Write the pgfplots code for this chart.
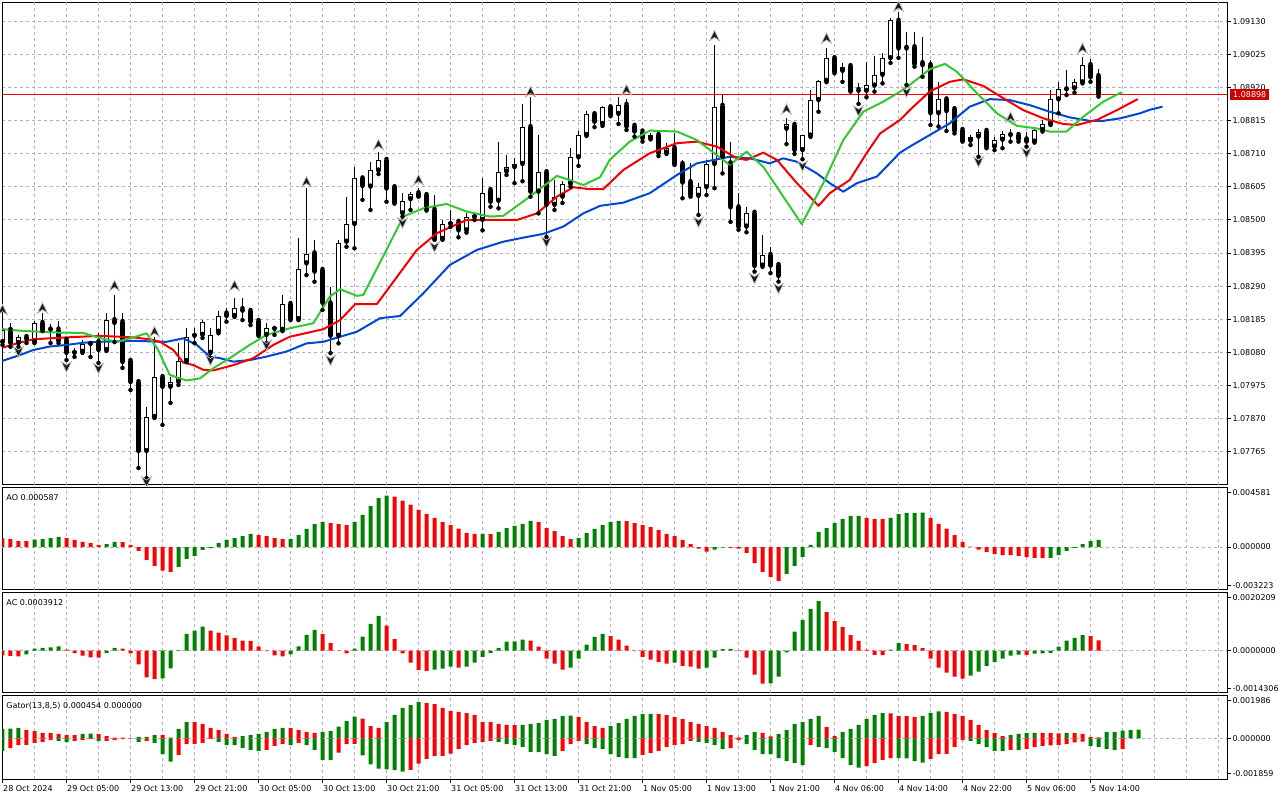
\documentclass[border=0pt]{standalone}
\usepackage{fontspec}
\setmainfont{DejaVu Sans}
\usepackage{pgfplots}
\usepackage{pgfplotstable}
\pgfplotsset{compat=1.18}
\definecolor{mtgreen}{RGB}{0,128,0}
\definecolor{mtred}{RGB}{255,0,0}
\definecolor{jawc}{RGB}{0,72,212}
\definecolor{teethc}{RGB}{245,0,0}
\definecolor{lipsc}{RGB}{50,200,50}
\definecolor{gridc}{RGB}{178,176,188}
\definecolor{pricered}{RGB}{205,0,0}
\newcommand\mtfont{\fontsize{8}{9.6}\selectfont}

\pgfdeclareplotmark{fup}{%
  \pgfpathmoveto{\pgfqpoint{0pt}{5.5pt}}%
  \pgfpathlineto{\pgfqpoint{5pt}{-5pt}}%
  \pgfpathlineto{\pgfqpoint{0pt}{-1.5pt}}%
  \pgfpathlineto{\pgfqpoint{-5pt}{-5pt}}%
  \pgfpathclose
  \pgfusepathqfillstroke}
\pgfdeclareplotmark{fdown}{%
  \pgfpathmoveto{\pgfqpoint{0pt}{-5.5pt}}%
  \pgfpathlineto{\pgfqpoint{5pt}{5pt}}%
  \pgfpathlineto{\pgfqpoint{0pt}{1.5pt}}%
  \pgfpathlineto{\pgfqpoint{-5pt}{5pt}}%
  \pgfpathclose
  \pgfusepathqfillstroke}

\pgfplotstableread{
i o h l c
0 1.08112 1.08160 1.08103 1.08151
1 1.08151 1.08173 1.08097 1.08109
2 1.08109 1.08135 1.08097 1.08128
3 1.08128 1.08135 1.08109 1.08122
4 1.08112 1.08178 1.08109 1.08173
5 1.08173 1.08205 1.08147 1.08151
6 1.08152 1.08170 1.08109 1.08151
7 1.08152 1.08179 1.08109 1.08116
8 1.08119 1.08125 1.08055 1.08078
9 1.08078 1.08093 1.08065 1.08084
10 1.08081 1.08119 1.08078 1.08106
11 1.08106 1.08114 1.08065 1.08112
12 1.08112 1.08141 1.08046 1.08087
13 1.08087 1.08205 1.08084 1.08182
14 1.08182 1.08262 1.08112 1.08173
15 1.08176 1.08205 1.08030 1.08049
16 1.08052 1.08055 1.07960 1.07985
17 1.07985 1.07989 1.07712 1.07766
18 1.07766 1.07906 1.07680 1.07874
19 1.07874 1.08128 1.07871 1.08001
20 1.08001 1.08008 1.07849 1.07970
21 1.07970 1.08001 1.07919 1.07985
22 1.07985 1.08109 1.07976 1.08052
23 1.08052 1.08157 1.08049 1.08128
24 1.08132 1.08157 1.08109 1.08138
25 1.08135 1.08182 1.08125 1.08176
26 1.08078 1.08157 1.08062 1.08135
27 1.08145 1.08212 1.08140 1.08195
28 1.08203 1.08220 1.08177 1.08195
29 1.08195 1.08252 1.08192 1.08220
30 1.08217 1.08252 1.08182 1.08212
31 1.08211 1.08217 1.08166 1.08177
32 1.08179 1.08185 1.08132 1.08135
33 1.08135 1.08174 1.08109 1.08158
34 1.08154 1.08163 1.08135 1.08161
35 1.08151 1.08262 1.08147 1.08233
36 1.08233 1.08236 1.08182 1.08185
37 1.08185 1.08442 1.08182 1.08343
38 1.08362 1.08602 1.08325 1.08392
39 1.08394 1.08436 1.08304 1.08336
40 1.08341 1.08352 1.08214 1.08237
41 1.08235 1.08288 1.08077 1.08132
42 1.08132 1.08436 1.08108 1.08428
43 1.08431 1.08574 1.08415 1.08487
44 1.08487 1.08668 1.08410 1.08632
45 1.08632 1.08638 1.08564 1.08608
46 1.08606 1.08685 1.08532 1.08659
47 1.08657 1.08716 1.08646 1.08691
48 1.08691 1.08697 1.08558 1.08600
49 1.08604 1.08614 1.08552 1.08555
50 1.08521 1.08585 1.08511 1.08561
51 1.08566 1.08590 1.08532 1.08582
52 1.08585 1.08601 1.08574 1.08577
53 1.08579 1.08585 1.08530 1.08534
54 1.08532 1.08579 1.08437 1.08440
55 1.08440 1.08500 1.08437 1.08487
56 1.08487 1.08532 1.08478 1.08494
57 1.08494 1.08500 1.08445 1.08467
58 1.08467 1.08521 1.08460 1.08509
59 1.08509 1.08521 1.08500 1.08516
60 1.08500 1.08632 1.08467 1.08585
61 1.08595 1.08606 1.08542 1.08558
62 1.08561 1.08749 1.08537 1.08652
63 1.08654 1.08707 1.08643 1.08668
64 1.08668 1.08696 1.08617 1.08678
65 1.08678 1.08869 1.08623 1.08795
66 1.08795 1.08891 1.08574 1.08590
67 1.08590 1.08770 1.08521 1.08652
68 1.08652 1.08656 1.08446 1.08548
69 1.08548 1.08627 1.08532 1.08574
70 1.08574 1.08623 1.08554 1.08614
71 1.08614 1.08728 1.08606 1.08699
72 1.08699 1.08783 1.08672 1.08770
73 1.08770 1.08846 1.08767 1.08836
74 1.08836 1.08843 1.08795 1.08812
75 1.08805 1.08863 1.08799 1.08858
76 1.08858 1.08863 1.08830 1.08834
77 1.08837 1.08890 1.08805 1.08865
78 1.08866 1.08883 1.08786 1.08797
79 1.08799 1.08808 1.08765 1.08781
80 1.08781 1.08786 1.08749 1.08760
81 1.08760 1.08777 1.08756 1.08770
82 1.08770 1.08775 1.08703 1.08712
83 1.08714 1.08744 1.08710 1.08728
84 1.08728 1.08775 1.08675 1.08678
85 1.08678 1.08691 1.08569 1.08619
86 1.08620 1.08680 1.08574 1.08579
87 1.08577 1.08617 1.08516 1.08604
88 1.08604 1.08691 1.08579 1.08678
89 1.08678 1.09056 1.08601 1.08858
90 1.08863 1.08897 1.08648 1.08701
91 1.08680 1.08749 1.08494 1.08540
92 1.08540 1.08585 1.08469 1.08479
93 1.08479 1.08540 1.08461 1.08521
94 1.08523 1.08529 1.08336 1.08354
95 1.08355 1.08452 1.08351 1.08389
96 1.08389 1.08413 1.08331 1.08355
97 1.08357 1.08366 1.08304 1.08322
98 1.08790 1.08823 1.08741 1.08804
99 1.08802 1.08805 1.08710 1.08722
100 1.08722 1.08770 1.08693 1.08770
101 1.08768 1.08913 1.08764 1.08881
102 1.08881 1.08945 1.08844 1.08942
103 1.08942 1.09045 1.08938 1.09014
104 1.09014 1.09018 1.08966 1.08971
105 1.08974 1.08998 1.08939 1.08987
106 1.08989 1.08993 1.08908 1.08911
107 1.08913 1.08934 1.08869 1.08911
108 1.08910 1.09003 1.08890 1.08929
109 1.08927 1.09021 1.08908 1.08961
110 1.08961 1.09030 1.08934 1.09014
111 1.09014 1.09142 1.08999 1.09135
112 1.09133 1.09161 1.09015 1.09045
113 1.09047 1.09098 1.08929 1.09045
114 1.09049 1.09098 1.08987 1.08995
115 1.08998 1.09082 1.08955 1.08992
116 1.08992 1.09008 1.08802 1.08839
117 1.08839 1.08939 1.08797 1.08883
118 1.08883 1.08890 1.08783 1.08846
119 1.08852 1.08855 1.08775 1.08783
120 1.08786 1.08789 1.08749 1.08752
121 1.08752 1.08770 1.08738 1.08765
122 1.08765 1.08788 1.08701 1.08781
123 1.08783 1.08786 1.08728 1.08733
124 1.08733 1.08765 1.08722 1.08755
125 1.08755 1.08783 1.08728 1.08774
126 1.08770 1.08790 1.08749 1.08772
127 1.08770 1.08781 1.08749 1.08756
128 1.08756 1.08781 1.08733 1.08749
129 1.08749 1.08789 1.08746 1.08786
130 1.08786 1.08818 1.08781 1.08804
131 1.08804 1.08913 1.08802 1.08883
132 1.08883 1.08939 1.08839 1.08915
133 1.08915 1.08977 1.08897 1.08917
134 1.08918 1.08947 1.08904 1.08939
135 1.08937 1.09019 1.08934 1.08992
136 1.08992 1.09011 1.08939 1.08953
137 1.08957 1.08979 1.08892 1.08898
}\candles

\pgfplotstableread{
i p
-0.3 1.08050
2.2 1.08071
3.85 1.08087
5.9 1.08098
8.0 1.08103
10.1 1.08110
12.2 1.08113
16.3 1.08116
20.5 1.08113
22.6 1.08124
24.3 1.08103
25.9 1.08066
27.2 1.08061
28.85 1.08050
30.9 1.08055
33.0 1.08066
35.5 1.08082
38.0 1.08108
40.1 1.08113
44.3 1.08145
47.2 1.08188
49.7 1.08195
52.6 1.08267
55.9 1.08357
59.3 1.08405
62.6 1.08431
65.1 1.08444
67.6 1.08456
70.1 1.08479
72.6 1.08521
74.7 1.08545
77.6 1.08555
80.9 1.08585
84.3 1.08643
86.8 1.08680
90.9 1.08701
93.4 1.08696
95.9 1.08680
97.6 1.08696
99.3 1.08685
101.8 1.08648
103.4 1.08617
105.1 1.08590
106.8 1.08617
109.3 1.08638
112.2 1.08714
113.4 1.08733
115.9 1.08770
118.4 1.08807
120.9 1.08860
123.4 1.08884
125.9 1.08881
128.4 1.08865
130.9 1.08844
133.4 1.08826
135.9 1.08815
137.6 1.08815
139.7 1.08823
142.2 1.08839
143.4 1.08850
145.0 1.08860
}\jaw

\pgfplotstableread{
i p
-0.3 1.08092
1.8 1.08108
3.85 1.08121
8.0 1.08127
12.2 1.08132
16.3 1.08127
18.4 1.08121
19.7 1.08113
21.35 1.08087
22.6 1.08047
23.85 1.08039
25.1 1.08024
26.35 1.08022
28.85 1.08039
31.35 1.08061
33.85 1.08103
35.9 1.08129
40.1 1.08153
42.2 1.08182
44.1 1.08233
46.8 1.08233
48.4 1.08288
51.8 1.08405
54.3 1.08458
58.0 1.08500
64.3 1.08500
66.8 1.08521
69.3 1.08574
71.35 1.08604
73.4 1.08598
75.1 1.08598
77.6 1.08659
80.9 1.08712
84.3 1.08744
86.8 1.08749
89.3 1.08733
91.8 1.08696
93.0 1.08691
95.1 1.08714
96.8 1.08691
99.3 1.08617
102.0 1.08545
103.4 1.08585
105.9 1.08627
108.0 1.08712
109.7 1.08775
112.2 1.08818
113.4 1.08849
115.9 1.08908
118.4 1.08939
120.1 1.08947
122.6 1.08926
125.1 1.08887
127.6 1.08849
130.1 1.08823
132.6 1.08805
134.3 1.08802
136.8 1.08818
139.3 1.08849
141.9 1.08884
}\teeth

\pgfplotstableread{
i p
-0.3 1.08154
1.8 1.08149
5.9 1.08143
10.1 1.08141
12.2 1.08125
14.3 1.08113
16.35 1.08127
18.0 1.08140
19.4 1.08090
20.9 1.08008
23.0 1.07990
24.7 1.07997
26.35 1.08029
28.4 1.08061
30.9 1.08103
33.0 1.08135
35.9 1.08156
38.85 1.08172
40.9 1.08256
42.2 1.08280
44.3 1.08259
45.1 1.08262
48.0 1.08405
50.1 1.08511
52.6 1.08537
55.5 1.08551
58.0 1.08527
60.9 1.08511
62.6 1.08513
65.9 1.08574
69.3 1.08640
70.9 1.08627
72.6 1.08611
74.7 1.08636
75.9 1.08691
78.4 1.08749
80.9 1.08784
84.3 1.08781
86.8 1.08754
89.3 1.08706
90.9 1.08675
93.0 1.08717
95.1 1.08669
97.6 1.08574
99.9 1.08487
102.6 1.08617
105.1 1.08754
107.6 1.08844
110.1 1.08876
112.2 1.08908
113.4 1.08929
115.9 1.08979
117.8 1.08996
119.3 1.08971
121.8 1.08903
124.3 1.08839
126.8 1.08799
129.3 1.08791
130.9 1.08781
133.0 1.08781
135.1 1.08828
137.6 1.08876
139.9 1.08906
}\lips

\pgfplotstableread{
i p
0 1.08214
5 1.08220
14 1.08291
19 1.08145
29 1.08291
38 1.08621
47 1.08739
52 1.08627
66 1.08907
78 1.08913
89 1.09085
98 1.08852
103 1.09077
112 1.09178
126 1.08826
135 1.09045
}\fup

\pgfplotstableread{
i p
2 1.08082
8 1.08034
12 1.08029
18 1.07669
26 1.08055
33 1.08103
41 1.08055
50 1.08491
54 1.08415
68 1.08431
87 1.08494
94 1.08315
97 1.08283
100 1.08672
107 1.08847
113 1.08907
122 1.08685
128 1.08714
}\fdn

\pgfplotstableread{
i v g
0 0.00073 0
1 0.00067 0
2 0.00050 0
3 0.00049 0
4 0.00061 1
5 0.00067 1
6 0.00075 1
7 0.00084 1
8 0.00075 0
9 0.00059 0
10 0.00042 0
11 0.00033 0
12 0.00017 0
13 0.00025 1
14 0.00042 1
15 0.00041 0
16 0.00017 0
17 -0.00033 0
18 -0.00109 0
19 -0.00159 0
20 -0.00198 0
21 -0.00209 0
22 -0.00167 1
23 -0.00100 1
24 -0.00075 1
25 -0.00025 1
26 -0.00010 1
27 0.00033 1
28 0.00059 1
29 0.00075 1
30 0.00092 1
31 0.00109 1
32 0.00100 0
33 0.00092 0
34 0.00075 0
35 0.00067 0
36 0.00069 1
37 0.00100 1
38 0.00151 1
39 0.00192 1
40 0.00209 1
41 0.00201 0
42 0.00192 0
43 0.00184 0
44 0.00209 1
45 0.00270 1
46 0.00343 1
47 0.00410 1
48 0.00430 1
49 0.00421 0
50 0.00388 0
51 0.00354 0
52 0.00310 0
53 0.00276 0
54 0.00243 0
55 0.00209 0
56 0.00184 0
57 0.00153 0
58 0.00117 0
59 0.00109 0
60 0.00110 1
61 0.00108 0
62 0.00126 1
63 0.00159 1
64 0.00178 1
65 0.00193 1
66 0.00218 1
67 0.00209 0
68 0.00159 0
69 0.00134 0
70 0.00092 0
71 0.00067 0
72 0.00075 1
73 0.00117 1
74 0.00151 1
75 0.00184 1
76 0.00209 1
77 0.00218 1
78 0.00217 0
79 0.00200 0
80 0.00184 0
81 0.00167 0
82 0.00142 0
83 0.00109 0
84 0.00092 0
85 0.00059 0
86 0.00025 0
87 -0.00014 0
88 -0.00039 0
89 -0.00022 1
90 -0.00006 1
91 -0.00008 0
92 -0.00014 0
93 -0.00050 0
94 -0.00134 0
95 -0.00209 0
96 -0.00251 0
97 -0.00285 0
98 -0.00226 1
99 -0.00159 1
100 -0.00083 1
101 0.00017 1
102 0.00126 1
103 0.00159 1
104 0.00200 1
105 0.00234 1
106 0.00260 1
107 0.00261 1
108 0.00243 0
109 0.00234 0
110 0.00233 0
111 0.00243 1
112 0.00276 1
113 0.00285 1
114 0.00286 1
115 0.00287 1
116 0.00243 0
117 0.00193 0
118 0.00153 0
119 0.00100 0
120 0.00042 0
121 0.00003 0
122 -0.00022 0
123 -0.00042 0
124 -0.00059 0
125 -0.00067 0
126 -0.00068 0
127 -0.00075 0
128 -0.00084 0
129 -0.00092 0
130 -0.00093 0
131 -0.00091 1
132 -0.00067 1
133 -0.00033 1
134 -0.00008 1
135 0.00025 1
136 0.00050 1
137 0.00059 1
}\ao

\pgfplotstableread{
i v g
0 -0.00018 0
1 -0.00020 0
2 -0.00021 0
3 -0.00014 1
4 0.00008 1
5 0.00011 1
6 0.00013 1
7 0.00016 1
8 0.00004 0
9 -0.00009 0
10 -0.00019 0
11 -0.00025 0
12 -0.00026 0
13 -0.00009 1
14 0.00011 1
15 0.00008 0
16 -0.00010 0
17 -0.00052 0
18 -0.00101 0
19 -0.00108 0
20 -0.00105 1
21 -0.00067 1
22 0.00002 1
23 0.00064 1
24 0.00076 1
25 0.00091 1
26 0.00076 0
27 0.00068 0
28 0.00058 0
29 0.00049 0
30 0.00038 0
31 0.00037 0
32 0.00016 0
33 -0.00002 0
34 -0.00018 0
35 -0.00021 0
36 -0.00014 1
37 0.00016 1
38 0.00060 1
39 0.00079 1
40 0.00064 0
41 0.00030 0
42 -0.00001 0
43 -0.00010 0
44 0.00008 1
45 0.00053 1
46 0.00102 1
47 0.00132 1
48 0.00095 0
49 0.00044 0
50 -0.00010 0
51 -0.00045 0
52 -0.00073 0
53 -0.00076 0
54 -0.00072 1
55 -0.00068 1
56 -0.00060 1
57 -0.00064 0
58 -0.00060 1
59 -0.00045 1
60 -0.00023 1
61 -0.00008 1
62 0.00011 1
63 0.00034 1
64 0.00035 1
65 0.00042 1
66 0.00038 0
67 0.00015 0
68 -0.00030 0
69 -0.00049 0
70 -0.00072 0
71 -0.00064 1
72 -0.00030 1
73 0.00023 1
74 0.00052 1
75 0.00064 1
76 0.00055 0
77 0.00042 0
78 0.00019 0
79 -0.00002 0
80 -0.00023 0
81 -0.00034 0
82 -0.00042 0
83 -0.00049 0
84 -0.00045 1
85 -0.00057 0
86 -0.00060 0
87 -0.00068 0
88 -0.00064 1
89 -0.00026 1
90 0.00006 1
91 0.00007 1
92 -0.00002 0
93 -0.00026 0
94 -0.00091 0
95 -0.00125 0
96 -0.00124 1
97 -0.00098 1
98 -0.00006 1
99 0.00072 1
100 0.00116 1
101 0.00158 1
102 0.00188 1
103 0.00146 0
104 0.00112 0
105 0.00090 0
106 0.00059 0
107 0.00037 0
108 0.00004 0
109 -0.00016 0
110 -0.00017 0
111 0.00004 1
112 0.00029 1
113 0.00025 0
114 0.00021 0
115 0.00010 0
116 -0.00030 0
117 -0.00064 0
118 -0.00083 0
119 -0.00098 0
120 -0.00106 0
121 -0.00094 1
122 -0.00079 1
123 -0.00057 1
124 -0.00042 1
125 -0.00030 1
126 -0.00019 1
127 -0.00015 1
128 -0.00016 0
129 -0.00011 1
130 -0.00010 1
131 -0.00008 1
132 0.00015 1
133 0.00038 1
134 0.00049 1
135 0.00059 1
136 0.00055 0
137 0.00039 0
}\ac

\pgfplotstableread{
i v g
0 0.00049 1
1 0.00050 1
2 0.00054 1
3 0.00043 0
4 0.00038 0
5 0.00028 0
6 0.00027 0
7 0.00023 0
8 0.00017 0
9 0.00016 0
10 0.00023 1
11 0.00024 1
12 0.00022 0
13 0.00012 0
14 0.00004 0
15 0.00003 0
16 0.00002 0
17 0.00007 1
18 0.00008 1
19 0.00017 1
20 0.00016 0
21 0.00004 0
22 0.00049 1
23 0.00085 1
24 0.00084 0
25 0.00075 0
26 0.00054 0
27 0.00043 0
28 0.00023 0
29 0.00007 0
30 0.00012 1
31 0.00017 1
32 0.00023 1
33 0.00033 1
34 0.00049 1
35 0.00054 1
36 0.00053 0
37 0.00043 0
38 0.00033 0
39 0.00028 0
40 0.00033 1
41 0.00038 1
42 0.00061 1
43 0.00090 1
44 0.00113 1
45 0.00103 0
46 0.00064 0
47 0.00054 0
48 0.00085 1
49 0.00122 1
50 0.00159 1
51 0.00174 1
52 0.00190 1
53 0.00185 0
54 0.00179 0
55 0.00159 0
56 0.00143 0
57 0.00138 0
58 0.00132 0
59 0.00122 0
60 0.00085 0
61 0.00084 0
62 0.00075 0
63 0.00070 0
64 0.00069 0
65 0.00070 1
66 0.00075 1
67 0.00080 1
68 0.00096 1
69 0.00101 1
70 0.00117 1
71 0.00118 1
72 0.00111 0
73 0.00085 0
74 0.00064 0
75 0.00054 0
76 0.00064 1
77 0.00080 1
78 0.00101 1
79 0.00117 1
80 0.00127 1
81 0.00128 1
82 0.00127 0
83 0.00122 0
84 0.00111 0
85 0.00101 0
86 0.00085 0
87 0.00075 0
88 0.00064 0
89 0.00054 0
90 0.00033 0
91 0.00017 0
92 0.00005 0
93 0.00017 1
94 0.00033 1
95 0.00028 0
96 0.00010 0
97 0.00022 1
98 0.00043 1
99 0.00075 1
100 0.00085 1
101 0.00101 1
102 0.00117 1
103 0.00059 0
104 0.00012 0
105 0.00033 1
106 0.00049 1
107 0.00070 1
108 0.00101 1
109 0.00122 1
110 0.00131 1
111 0.00130 0
112 0.00117 0
113 0.00116 0
114 0.00111 0
115 0.00117 1
116 0.00132 1
117 0.00141 1
118 0.00138 0
119 0.00127 0
120 0.00117 0
121 0.00096 0
122 0.00070 0
123 0.00043 0
124 0.00028 0
125 0.00012 0
126 0.00017 1
127 0.00023 1
128 0.00028 1
129 0.00029 1
130 0.00028 0
131 0.00027 0
132 0.00026 0
133 0.00028 1
134 0.00027 0
135 0.00023 0
136 0.00007 0
137 0.00005 0
138 0.00033 1
139 0.00034 1
140 0.00040 1
141 0.00043 1
142 0.00045 1
}\gup

\pgfplotstableread{
i v g
0 -0.00066 1
1 -0.00051 0
2 -0.00035 0
3 -0.00034 0
4 -0.00024 0
5 -0.00019 0
6 -0.00009 0
7 -0.00014 1
8 -0.00019 1
9 -0.00014 0
10 -0.00009 0
11 -0.00004 0
12 -0.00014 1
13 -0.00013 0
14 -0.00009 0
15 -0.00004 0
16 -0.00002 0
17 -0.00019 1
18 -0.00014 0
19 -0.00024 1
20 -0.00082 1
21 -0.00122 1
22 -0.00087 0
23 -0.00030 0
24 -0.00029 0
25 -0.00024 0
26 -0.00004 0
27 -0.00019 1
28 -0.00035 1
29 -0.00036 1
30 -0.00051 1
31 -0.00061 1
32 -0.00066 1
33 -0.00061 0
34 -0.00040 0
35 -0.00030 0
36 -0.00035 1
37 -0.00024 0
38 -0.00035 1
39 -0.00061 1
40 -0.00113 1
41 -0.00114 1
42 -0.00075 0
43 -0.00030 0
44 -0.00029 0
45 -0.00089 1
46 -0.00136 1
47 -0.00159 1
48 -0.00162 1
49 -0.00166 1
50 -0.00174 1
51 -0.00165 0
52 -0.00132 0
53 -0.00108 0
54 -0.00093 0
55 -0.00092 0
56 -0.00080 0
57 -0.00056 0
58 -0.00035 0
59 -0.00024 0
60 -0.00019 0
61 -0.00014 0
62 -0.00019 1
63 -0.00030 1
64 -0.00035 1
65 -0.00045 1
66 -0.00071 1
67 -0.00072 1
68 -0.00082 1
69 -0.00092 1
70 -0.00066 0
71 -0.00030 0
72 -0.00014 0
73 -0.00030 1
74 -0.00051 1
75 -0.00056 1
76 -0.00082 1
77 -0.00098 1
78 -0.00103 1
79 -0.00104 1
80 -0.00087 0
81 -0.00077 0
82 -0.00066 0
83 -0.00045 0
84 -0.00035 0
85 -0.00030 0
86 -0.00014 0
87 -0.00019 1
88 -0.00024 1
89 -0.00035 1
90 -0.00056 1
91 -0.00051 0
92 -0.00009 0
93 -0.00030 1
94 -0.00061 1
95 -0.00082 1
96 -0.00083 1
97 -0.00103 1
98 -0.00119 1
99 -0.00129 1
100 -0.00140 1
101 -0.00035 0
102 -0.00045 1
103 -0.00051 1
104 -0.00071 1
105 -0.00103 1
106 -0.00140 1
107 -0.00153 1
108 -0.00145 0
109 -0.00129 0
110 -0.00113 0
111 -0.00103 0
112 -0.00104 1
113 -0.00105 1
114 -0.00119 1
115 -0.00127 1
116 -0.00108 0
117 -0.00082 0
118 -0.00081 0
119 -0.00045 0
120 -0.00009 0
121 -0.00014 1
122 -0.00030 1
123 -0.00045 1
124 -0.00066 1
125 -0.00067 1
126 -0.00061 0
127 -0.00062 1
128 -0.00055 0
129 -0.00045 0
130 -0.00040 0
131 -0.00037 0
132 -0.00035 0
133 -0.00031 0
134 -0.00021 0
135 -0.00017 0
136 -0.00040 1
137 -0.00045 1
138 -0.00056 1
139 -0.00061 1
140 -0.00056 0
}\gdn

\pgfplotsset{
  mtpanel/.style={
    scale only axis, width=1225pt,
    xmin=-0.025, xmax=153.1,
    axis line style={black, line width=1pt},
    tick style={black, line width=1pt},
    tick align=outside, major tick length=4pt,
    ytick pos=right, yticklabel pos=right,
    yticklabel style={font=\mtfont, anchor=west, inner sep=0pt, xshift=1pt},
    grid style={gridc, line width=1pt, dash pattern=on 3pt off 3pt},
    major grid style={gridc, line width=1pt, dash pattern=on 3pt off 3pt},
    minor grid style={gridc, line width=1pt, dash pattern=on 3pt off 3pt},
    scaled y ticks=false,
  },
  vgrid/.style={xtick=\empty, extra x ticks={4,8,...,152}, extra x tick labels={},
    extra x tick style={grid=major, major tick length=0pt}},
  zeroline/.style={extra y ticks={0}, extra y tick labels={},
    extra y tick style={grid=major, major tick length=0pt}},
  gbar/.style={ybar, bar width=4pt, bar shift=0pt, draw=none, fill=mtgreen,
    restrict expr to domain={\thisrow{g}}{0.5:1.5}},
  rbar/.style={ybar, bar width=4pt, bar shift=0pt, draw=none, fill=mtred,
    restrict expr to domain={\thisrow{g}}{-0.5:0.5}},
}

\begin{document}
\begin{tikzpicture}
\path[use as bounding box] (0pt,0pt) rectangle (1280pt,-800pt);

% ---------------- main price panel
\begin{axis}[mtpanel, vgrid, at={(2.3pt,-2.5pt)}, anchor=north west, height=482.2pt,
  ymin=1.07659, ymax=1.09191,
  ytick={1.07765,1.07870,1.07975,1.08080,1.08185,1.08290,1.08395,1.08500,1.08605,1.08710,1.08815,1.08920,1.09025,1.09130},
  yticklabels={1.07765,1.07870,1.07975,1.08080,1.08185,1.08290,1.08395,1.08500,1.08605,1.08710,1.08815,1.08920,1.09025,1.09130},
  ymajorgrids,
]
\addplot[mtred, line width=1pt] coordinates {(-1,1.08898) (160,1.08898)};
\addplot[only marks, mark=none, error bars/.cd, y dir=plus, y explicit, error mark=none,
  error bar style={black, line width=1pt, solid}]
  table[x=i, y=l, y error plus expr={\thisrow{h}-\thisrow{l}}] {\candles};
\addplot[only marks, mark=none, error bars/.cd, y dir=plus, y explicit, error mark=none,
  error bar style={black, line width=5pt, solid}]
  table[x=i, y expr={min(\thisrow{o},\thisrow{c})}, y error plus expr={max(abs(\thisrow{c}-\thisrow{o}),0.0000318)}] {\candles};
\addplot[only marks, mark=none, error bars/.cd, y dir=plus, y explicit, error mark=none,
  error bar style={white, line width=3pt, solid}]
  table[x=i, y expr={\thisrow{o}+0.0000318}, y error plus expr={max(\thisrow{c}-\thisrow{o}-0.0000636,0)}] {\candles};
\addplot[jawc, line width=2pt, line join=round] table[x=i, y=p] {\jaw};
\addplot[teethc, line width=2pt, line join=round] table[x=i, y=p] {\teeth};
\addplot[lipsc, line width=2pt, line join=round] table[x=i, y=p] {\lips};
\addplot[only marks, mark=fup, mark options={fill=black!90, draw=gray!55, line width=0.7pt}] table[x=i, y=p] {\fup};
\addplot[only marks, mark=fdown, mark options={fill=black!90, draw=gray!55, line width=0.7pt}] table[x=i, y=p] {\fdn};
\coordinate (cp) at (axis cs:153.1,1.08898);
\end{axis}
\node[fill=pricered, text=white, font=\mtfont, inner xsep=3pt, inner ysep=2.5pt,
  text height=6pt, text depth=0pt, anchor=west] at ([xshift=2.7pt]cp) {1.08898};

% ---------------- AO
\begin{axis}[mtpanel, vgrid, zeroline, at={(2.3pt,-487.5pt)}, anchor=north west, height=102pt,
  ymin=-0.003559, ymax=0.004983,
  ytick={-0.003223,0,0.004581}, yticklabels={-0.003223,0.000000,0.004581}]
\addplot[gbar] table[x=i, y=v] {\ao};
\addplot[rbar] table[x=i, y=v] {\ao};
\node[anchor=base west, font=\mtfont, inner sep=0pt, xshift=4pt, yshift=-12.5pt] at (rel axis cs:0,1) {AO 0.000587};
\end{axis}

% ---------------- AC
\begin{axis}[mtpanel, vgrid, zeroline, at={(2.3pt,-592pt)}, anchor=north west, height=100.7pt,
  ymin=-0.0015895, ymax=0.0022214,
  ytick={-0.0014306,0,0.0020209}, yticklabels={-0.0014306,0.0000000,0.0020209}]
\addplot[gbar] table[x=i, y=v] {\ac};
\addplot[rbar] table[x=i, y=v] {\ac};
\node[anchor=base west, font=\mtfont, inner sep=0pt, xshift=4pt, yshift=-13pt] at (rel axis cs:0,1) {AC 0.0003912};
\end{axis}

% ---------------- Gator
\begin{axis}[mtpanel, zeroline, at={(2.3pt,-695pt)}, anchor=north west, height=84pt,
  ymin=-0.002127, ymax=0.002263, clip mode=individual,
  minor xtick={4,8,...,152}, xminorgrids, minor tick length=0pt,
  xtick={0,8,...,136}, xticklabels={}, xtick pos=bottom,
  ytick={-0.001859,0,0.001986}, yticklabels={-0.001859,0.000000,0.001986}]
\addplot[gbar] table[x=i, y=v] {\gup};
\addplot[rbar] table[x=i, y=v] {\gup};
\addplot[gbar] table[x=i, y=v] {\gdn};
\addplot[rbar] table[x=i, y=v] {\gdn};
\node[anchor=base west, font=\mtfont, inner sep=0pt, xshift=4pt, yshift=-13.3pt] at (rel axis cs:0,1) {Gator(13,8,5) 0.000454 0.000000};
\begin{scope}[every node/.style={anchor=base west, font=\mtfont, inner sep=0pt, xshift=0.5pt, yshift=-12.7pt}]
\node at (axis cs:0,-0.002127) {28 Oct 2024};
\node at (axis cs:8,-0.002127) {29 Oct 05:00};
\node at (axis cs:16,-0.002127) {29 Oct 13:00};
\node at (axis cs:24,-0.002127) {29 Oct 21:00};
\node at (axis cs:32,-0.002127) {30 Oct 05:00};
\node at (axis cs:40,-0.002127) {30 Oct 13:00};
\node at (axis cs:48,-0.002127) {30 Oct 21:00};
\node at (axis cs:56,-0.002127) {31 Oct 05:00};
\node at (axis cs:64,-0.002127) {31 Oct 13:00};
\node at (axis cs:72,-0.002127) {31 Oct 21:00};
\node at (axis cs:80,-0.002127) {1 Nov 05:00};
\node at (axis cs:88,-0.002127) {1 Nov 13:00};
\node at (axis cs:96,-0.002127) {1 Nov 21:00};
\node at (axis cs:104,-0.002127) {4 Nov 06:00};
\node at (axis cs:112,-0.002127) {4 Nov 14:00};
\node at (axis cs:120,-0.002127) {4 Nov 22:00};
\node at (axis cs:128,-0.002127) {5 Nov 06:00};
\node at (axis cs:136,-0.002127) {5 Nov 14:00};
\end{scope}
\end{axis}
\end{tikzpicture}
\end{document}
